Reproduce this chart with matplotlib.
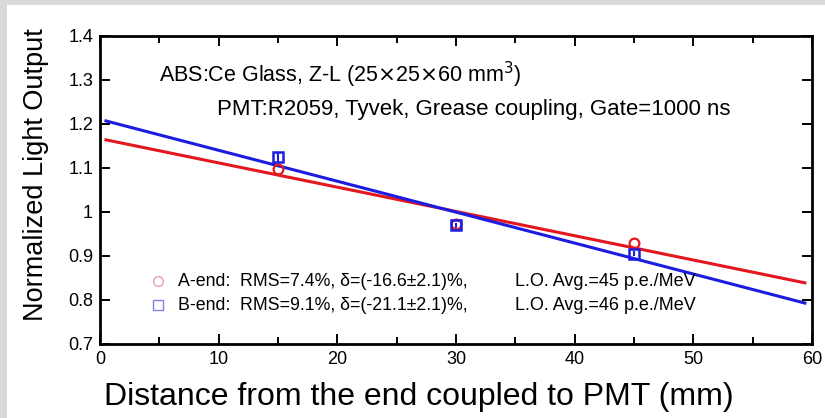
import matplotlib.pyplot as plt
from matplotlib.patches import Rectangle
from matplotlib.ticker import MultipleLocator

plt.rcParams['font.family'] = ['Liberation Sans', 'DejaVu Sans']

# measured light output at three positions along the bar
pos = [15, 30, 45]
a_end = [1.098, 0.972, 0.930]
b_end = [1.125, 0.970, 0.905]
b_err = [0.012, 0.006, 0.006]

# fitted attenuation lines
fit_x = [0.5, 59.4]
a_fit = [1.164, 0.839]
b_fit = [1.207, 0.793]

red = '#e3171e'
blue = '#1c1ce0'

fig = plt.figure(figsize=(8.25, 4.18), dpi=100)
fig.patch.set_facecolor('#d9d9d9')
fig.patches.append(Rectangle((7/825, 0), 1, 413/418, transform=fig.transFigure,
                             facecolor='white', edgecolor='none', zorder=-1))

ax = fig.add_axes([100/825, 74/418, 712/825, 308/418])
ax.set_facecolor('white')

ax.plot(fit_x, a_fit, color=red, lw=2.2, zorder=2)
ax.plot(fit_x, b_fit, color=blue, lw=2.2, zorder=2)
ax.errorbar(pos, b_end, yerr=b_err, fmt='s', mfc='none', mec=blue, ecolor=blue,
            ms=7, mew=1.8, elinewidth=1.5, capsize=0, zorder=3)
ax.plot(pos, a_end, 'o', mfc='none', mec=red, ms=7, mew=1.6, zorder=3)

ax.set_xlim(0, 60)
ax.set_ylim(0.7, 1.4)
ax.xaxis.set_major_locator(MultipleLocator(10))
ax.xaxis.set_minor_locator(MultipleLocator(5))
ax.set_yticks([0.7, 0.8, 0.9, 1.0, 1.1, 1.2, 1.3, 1.4])
ax.set_yticklabels(['0.7', '0.8', '0.9', '1', '1.1', '1.2', '1.3', '1.4'])
ax.tick_params(which='both', direction='in', top=True, right=True, labelsize=13, width=1.4)
ax.tick_params(which='major', length=7, pad=5)
ax.tick_params(which='minor', length=5)
for s in ax.spines.values():
    s.set_linewidth(2.0)

ax.set_xlabel('Distance from the end coupled to PMT (mm)', fontsize=23)
ax.xaxis.set_label_coords(0.448, -0.125)
ax.set_ylabel('Normalized Light Output', fontsize=19.5)
ax.yaxis.set_label_coords(-0.072, 0.55)

ax.text(5.0, 1.311, r'ABS:Ce Glass, Z-L (25$\times$25$\times$60 mm$^3$)', fontsize=15.5, va='center')
ax.text(9.9, 1.232, 'PMT:R2059, Tyvek, Grease coupling, Gate=1000 ns', fontsize=16, va='center')

ax.plot([4.9], [0.843], 'o', mfc='none', mec='#e8a0a8', ms=7, mew=1.0)
ax.plot([4.9], [0.788], 's', mfc='none', mec='#8080e8', ms=7, mew=1.0)
ax.text(6.6, 0.843, 'A-end:  RMS=7.4%, \u03b4=(-16.6\u00b12.1)%,', fontsize=12.8, va='center')
ax.text(6.6, 0.788, 'B-end:  RMS=9.1%, \u03b4=(-21.1\u00b12.1)%,', fontsize=12.8, va='center')
ax.text(35.0, 0.843, 'L.O. Avg.=45 p.e./MeV', fontsize=13, va='center')
ax.text(35.0, 0.788, 'L.O. Avg.=46 p.e./MeV', fontsize=13, va='center')

fig.savefig('out.png', dpi=100, facecolor=fig.get_facecolor())
